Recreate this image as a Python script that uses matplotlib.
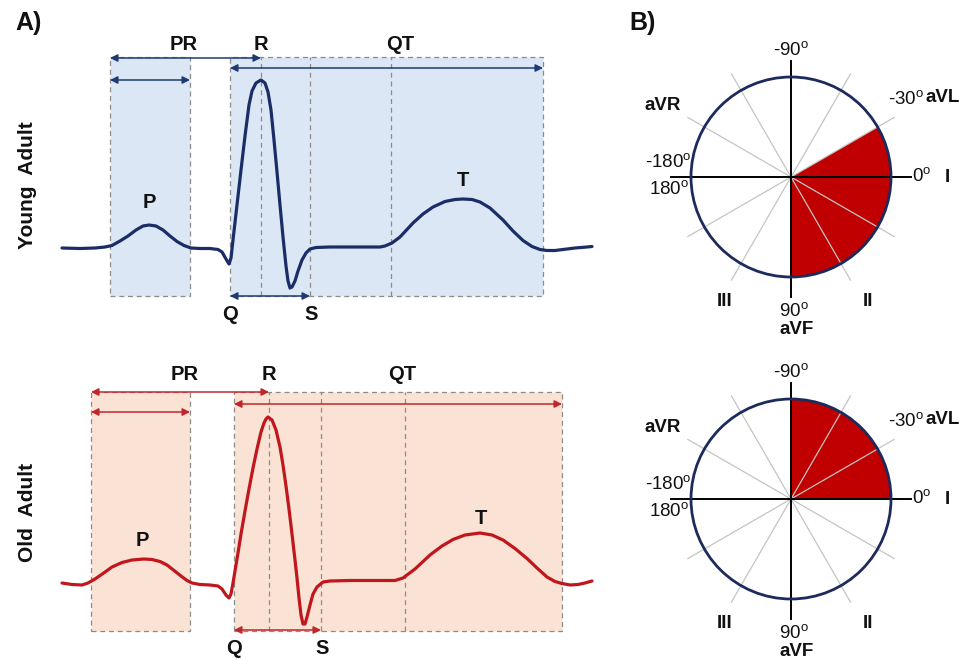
import matplotlib
matplotlib.use('Agg')
import matplotlib.pyplot as plt
from matplotlib.patches import Rectangle, Wedge, Circle
import numpy as np

plt.rcParams['font.family'] = ['Liberation Sans', 'DejaVu Sans']
plt.rcParams['mathtext.fontset'] = 'custom'
plt.rcParams['mathtext.rm'] = 'Liberation Sans'
plt.rcParams['mathtext.it'] = 'Liberation Sans:italic'
plt.rcParams['mathtext.bf'] = 'Liberation Sans:bold'

# ---------------- data ----------------
# ECG traces: time (ms), amplitude (uV)
young_t = [0, 18, 33, 43, 50, 58, 66, 74, 81, 87, 94, 101, 108, 115, 122, 129, 138, 148,
           156, 160, 164, 167, 169, 171, 175, 179, 183, 187, 190, 194, 199, 203, 206, 209,
           212, 215, 218, 221, 224, 226, 228, 230, 233, 236, 240, 244, 248, 254, 268, 288,
           308, 318, 323, 330, 338, 351, 361, 371, 383, 393, 401, 410, 418, 428, 441, 451,
           461, 470, 478, 485, 493, 501, 513, 525, 530]
young_uv = [0, -3, 0, 6, 15, 42, 72, 108, 132, 138, 132, 108, 72, 39, 15, 0, -3, -3,
            -9, -24, -66, -96, -60, 48, 258, 468, 672, 858, 942, 990, 1008, 990, 936, 828,
            648, 456, 258, 66, -108, -198, -240, -234, -198, -138, -72, -30, -6, 3, 6, 6,
            6, 6, 12, 30, 66, 150, 204, 246, 279, 291, 294, 291, 276, 240, 168, 102,
            45, 9, -9, -15, -15, -9, 0, 6, 9]

old_t = [0, 10, 20, 26, 33, 41, 50, 60, 70, 82, 90, 98, 105, 112, 119, 125, 130, 138, 148,
         156, 160, 164, 167, 169, 171, 173, 176, 179, 183, 187, 191, 195, 199, 202, 204,
         206, 210, 214, 218, 221, 224, 227, 230, 233, 235, 237, 239, 241, 243, 245, 248,
         251, 255, 261, 268, 288, 308, 328, 333, 341, 353, 368, 380, 391, 403, 418, 430,
         441, 453, 465, 475, 485, 493, 500, 508, 516, 523, 530]
old_uv = [0, -9, -12, 0, 24, 57, 96, 123, 138, 144, 141, 129, 108, 75, 42, 15, 0, -9, -12,
          -18, -36, -72, -90, -66, 0, 72, 180, 294, 432, 564, 690, 804, 906, 960, 984,
          996, 978, 918, 816, 708, 582, 444, 294, 138, 30, -90, -192, -246, -246, -204, -132,
          -66, -24, 6, 12, 15, 15, 15, 15, 30, 84, 168, 222, 261, 288, 300, 288,
          258, 207, 147, 90, 36, 9, -3, -12, -9, 0, 12]

# interval marks (ms): P onset, P offset, Q, R, S, T onset, T offset
young_marks = [48, 128, 168, 199, 248, 329, 481]
old_marks = [29, 128, 172, 207, 259, 343, 500]

# frontal-plane QRS axis range (degrees, ECG convention: +90 = down)
young_axis = [-30, 90]
old_axis = [-90, 0]
lead_names = ['I', 'II', 'III', 'aVR', 'aVL', 'aVF']
lead_angles = [0, 60, 120, -150, -30, 90]

# ---------------- figure ----------------
W, H = 971, 660
fig = plt.figure(figsize=(W / 100, H / 100), dpi=100)
fig.patch.set_facecolor('white')

GRAY = '#8c8c8c'
DASH = (0, (4, 3))


def draw_ecg(ax, t, uv, marks, lc, fc, ac, arrow_lv, lab):
    p_on, p_off, q, r, s, t_on, t_off = marks
    top, bot = 1145, -285
    ax.add_patch(Rectangle((p_on, bot), p_off - p_on, top - bot, facecolor=fc,
                           edgecolor=GRAY, lw=0.9, ls=DASH, zorder=1))
    ax.add_patch(Rectangle((q, bot), t_off - q, top - bot, facecolor=fc,
                           edgecolor=GRAY, lw=0.9, ls=DASH, zorder=1))
    for x in (r, s, t_on):
        ax.plot([x, x], [bot, top], color=GRAY, lw=0.9, ls=DASH, zorder=2)
    ax.plot(t, uv, color=lc, lw=2.3, solid_joinstyle='round',
            solid_capstyle='round', zorder=5)
    ap = dict(arrowstyle='<|-|>', color=ac, lw=1.1, mutation_scale=11,
              shrinkA=0, shrinkB=0)
    pr_lv, p_lv, qt_lv, qs_lv = arrow_lv
    ax.annotate('', xy=(r, pr_lv), xytext=(p_on, pr_lv), arrowprops=ap, zorder=4)
    ax.annotate('', xy=(p_off, p_lv), xytext=(p_on, p_lv), arrowprops=ap, zorder=4)
    ax.annotate('', xy=(t_off, qt_lv), xytext=(q, qt_lv), arrowprops=ap, zorder=4)
    ax.annotate('', xy=(s, qs_lv), xytext=(q, qs_lv), arrowprops=ap, zorder=4)
    fs = 14.5
    top_lab, qs_lab, p_lab, t_lab, pr_x, qt_x, name, name_y = lab
    kw = dict(fontsize=fs, fontweight='bold', ha='center', va='center', color='#111111')
    ax.text(pr_x, top_lab, 'PR', **kw)
    ax.text(r, top_lab, 'R', **kw)
    ax.text(qt_x, top_lab, 'QT', **kw)
    ax.text(q, qs_lab, 'Q', **kw)
    ax.text(s + 1, qs_lab, 'S', **kw)
    ax.text(p_lab[0], p_lab[1], 'P', **kw)
    ax.text(t_lab[0], t_lab[1], 'T', **kw)
    ax.text(-35, name_y, name, rotation=90, fontsize=15, fontweight='bold',
            ha='center', va='center', color='#111111')
    ax.set_xlim(-62, 538)
    ax.axis('off')


ax1 = fig.add_axes([0, 0.5, 600 / W, 0.5])
draw_ecg(ax1, young_t, young_uv, young_marks, '#1b2d66', '#dbe7f5', '#1f3a72',
         (1140, 1008, 1080, -288),
         (1218, -402, (87, 270), (401, 408), 122, 338, 'Young  Adult', 378))
ax1.set_ylim(-492, 1488)

ax2 = fig.add_axes([0, 0, 600 / W, 0.5])
draw_ecg(ax2, old_t, old_uv, old_marks, '#c0161c', '#fae2d4', '#c0272d',
         (1146, 1026, 1074, -282),
         (1248, -390, (80, 258), (419, 384), 123, 340, 'Old  Adult', 426))
ax2.set_ylim(-462, 1518)


def deg(s):
    return s + r'$^{\mathrm{o}}$'


def draw_axis(ax, rng, ylim):
    lo, hi = rng
    ax.add_patch(Wedge((0, 0), 1.0, -hi, -lo, facecolor='#c00000',
                       edgecolor='none', zorder=1))
    for a in lead_angles:
        if a in (0, 90):
            continue
        rad = np.deg2rad(a)
        c, s_ = np.cos(rad), -np.sin(rad)
        ax.plot([-1.19 * c, 1.19 * c], [-1.19 * s_, 1.19 * s_], color='#c4c4c4',
                lw=0.9, zorder=2)
    ax.plot([-1.2, 1.2], [0, 0], color='black', lw=1.4, zorder=3)
    ax.plot([0, 0], [-1.2, 1.16], color='black', lw=1.4, zorder=3)
    ax.add_patch(Circle((0, 0), 1.0, fill=False, edgecolor='#1c2b5c', lw=2.0, zorder=4))
    fs = 13.5
    rk = dict(fontsize=fs, color='#111111', va='center')
    bk = dict(fontsize=fs, color='#111111', va='center', fontweight='bold')
    ax.text(0, 1.27, deg('-90'), ha='center', **rk)
    ax.text(-1.28, 0.71, 'aVR', ha='center', **bk)
    ax.text(0.97, 0.78, deg('-30'), ha='left', **rk)
    ax.text(1.34, 0.79, 'aVL', ha='left', **bk)
    ax.text(-1.0, 0.15, deg('-180'), ha='right', **rk)
    ax.text(-1.02, -0.12, deg('180'), ha='right', **rk)
    ax.text(1.21, 0.01, deg('0'), ha='left', **rk)
    ax.text(1.56, 0.0, 'I', ha='center', **bk)
    ax.text(-0.66, -1.25, 'III', ha='center', **bk)
    ax.text(0.77, -1.25, 'II', ha='center', **bk)
    ax.text(0.03, -1.34, deg('90'), ha='center', **rk)
    ax.text(0.06, -1.53, 'aVF', ha='center', **bk)
    ax.set_xlim(-1.8, 1.8)
    ax.set_ylim(*ylim)
    ax.axis('off')


ax3 = fig.add_axes([611 / W, 0.5, 360 / W, 0.5])
draw_axis(ax3, young_axis, (-1.53, 1.77))
ax4 = fig.add_axes([611 / W, 0, 360 / W, 0.5])
draw_axis(ax4, old_axis, (-1.61, 1.69))

fig.text(29 / W, 1 - 23 / H, 'A)', fontsize=18, fontweight='bold', ha='center',
         va='center', color='#111111')
fig.text(643 / W, 1 - 23 / H, 'B)', fontsize=18, fontweight='bold', ha='center',
         va='center', color='#111111')

fig.savefig('out.png', dpi=100, facecolor='white')
